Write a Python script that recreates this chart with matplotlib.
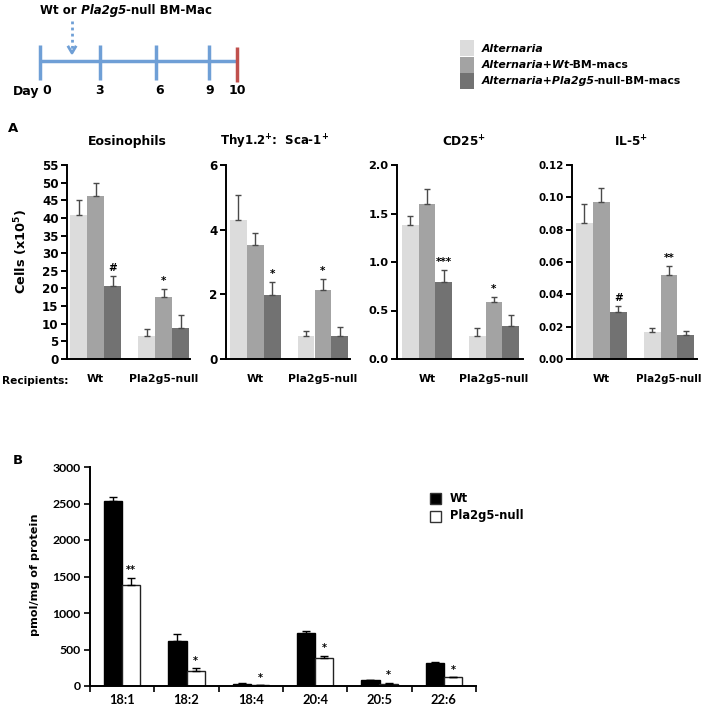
import matplotlib
matplotlib.use('Agg')
import matplotlib.pyplot as plt
import numpy as np
from matplotlib.patches import Rectangle

plt.rcParams['font.family'] = ['DejaVu Sans']
plt.rcParams['font.weight'] = 'bold'
plt.rcParams['axes.linewidth'] = 1.4

# ---------------- data ----------------
groups_A = ['Wt', 'Pla2g5-null']
series_A = ['Alternaria', 'Alternaria+Wt-BM-macs', 'Alternaria+Pla2g5-null-BM-macs']
colors_A = ['#dcdcdc', '#a3a3a3', '#727272']

eos_wt = [40.8, 46.2, 20.7]
eos_wt_err = [4.3, 3.6, 2.8]
eos_null = [6.5, 17.7, 8.9]
eos_null_err = [1.9, 2.1, 3.7]
eos_sig_wt = ['', '', '#']
eos_sig_null = ['', '*', '']

thy_wt = [4.30, 3.53, 1.98]
thy_wt_err = [0.78, 0.36, 0.41]
thy_null = [0.70, 2.14, 0.70]
thy_null_err = [0.18, 0.33, 0.28]
thy_sig_wt = ['', '', '*']
thy_sig_null = ['', '*', '']

cd25_wt = [1.38, 1.60, 0.79]
cd25_wt_err = [0.09, 0.15, 0.13]
cd25_null = [0.24, 0.59, 0.34]
cd25_null_err = [0.08, 0.05, 0.11]
cd25_sig_wt = ['', '', '***']
cd25_sig_null = ['', '*', '']

il5_wt = [0.084, 0.097, 0.029]
il5_wt_err = [0.012, 0.009, 0.004]
il5_null = [0.017, 0.052, 0.015]
il5_null_err = [0.002, 0.0055, 0.0025]
il5_sig_wt = ['', '', '#']
il5_sig_null = ['', '**', '']

fa_labels = ['18:1', '18:2', '18:4', '20:4', '20:5', '22:6']
fa_wt = [2535, 620, 27, 720, 78, 315]
fa_wt_err = [55, 87, 9, 37, 0, 18]
fa_null = [1381, 210, 9, 388, 23, 119]
fa_null_err = [105, 32, 0, 27, 18, 0]
fa_sig = ['**', '*', '*', '*', '*', '*']
series_B = ['Wt', 'Pla2g5-null']

timeline_days = ['0', '3', '6', '9', '10']

# ---------------- figure ----------------
W, H = 701, 708
fig = plt.figure(figsize=(W / 100, H / 100), dpi=100)


def ax_px(x0, y0, x1, y1):
    return fig.add_axes([x0 / W, 1 - y1 / H, (x1 - x0) / W, (y1 - y0) / H])


def panel_A(box, bar_left, bar_w, wt, wt_err, nl, nl_err, sig_wt, sig_nl,
            ymax, yticks, fmt, ysize=8.2):
    x0, y0, x1, y1 = box
    ax = ax_px(x0, y0, x1, y1)
    xl = -0.5 - (bar_left - x0) / bar_w
    xr = -0.5 + (x1 - bar_left) / bar_w
    for gi, (vals, errs, sigs) in enumerate([(wt, wt_err, sig_wt), (nl, nl_err, sig_nl)]):
        xs = np.arange(3) + gi * 4
        ax.bar(xs, vals, width=1.0, color=colors_A, edgecolor='none', zorder=2)
        ax.errorbar(xs, vals, yerr=[np.zeros(3), errs], fmt='none', ecolor='#4a4a4a',
                    elinewidth=1.0, capsize=2.5, capthick=1.0, zorder=3)
        for x, v, e, s in zip(xs, vals, errs, sigs):
            if s:
                ax.annotate(s, xy=(x, v + e), xytext=(0, 2), textcoords='offset points',
                            ha='center', va='bottom', fontsize=7.5, fontweight='bold')
    ax.set_xlim(xl, xr)
    ax.set_ylim(0, ymax)
    ax.set_yticks(yticks)
    ax.set_yticklabels([fmt.format(t) for t in yticks])
    ax.set_xticks([1, 5])
    ax.set_xticklabels(groups_A)
    ax.spines['top'].set_visible(False)
    ax.spines['right'].set_visible(False)
    ax.tick_params(axis='y', direction='out', length=4, width=1.4, labelsize=ysize, pad=2)
    ax.tick_params(axis='x', length=0, labelsize=7.8, pad=11)
    for lab in ax.get_xticklabels() + ax.get_yticklabels():
        lab.set_fontweight('bold')
    return ax


panel_A((67, 165, 190, 359), 70, 17.0, eos_wt, eos_wt_err, eos_null, eos_null_err,
        eos_sig_wt, eos_sig_null, 55, list(range(0, 56, 5)), '{:d}', 8.6)
panel_A((226, 165, 350, 359), 230, 16.9, thy_wt, thy_wt_err, thy_null, thy_null_err,
        thy_sig_wt, thy_sig_null, 6, [0, 2, 4, 6], '{:d}', 8.6)
panel_A((397, 165, 523, 359), 402, 16.7, cd25_wt, cd25_wt_err, cd25_null, cd25_null_err,
        cd25_sig_wt, cd25_sig_null, 2.0, [0.0, 0.5, 1.0, 1.5, 2.0], '{:.1f}', 8.2)
axIL = panel_A((572, 165, 697, 359), 576, 16.9, il5_wt, il5_wt_err, il5_null, il5_null_err,
               il5_sig_wt, il5_sig_null, 0.12, [0.0, 0.02, 0.04, 0.06, 0.08, 0.10, 0.12], '{:.2f}', 7.4)
axIL.get_xticklabels()[1].set_fontsize(7.4)

# ---------------- panel B ----------------
axB = ax_px(90, 467, 476, 686)
xB = np.arange(len(fa_labels))
bw = 0.28
axB.bar(xB - bw / 2, fa_wt, width=bw, color='black', edgecolor='black', linewidth=1.0, zorder=2)
axB.bar(xB + bw / 2, fa_null, width=bw, color='white', edgecolor='#222222', linewidth=1.0, zorder=2)
axB.errorbar(xB - bw / 2, fa_wt, yerr=[np.zeros(len(xB)), fa_wt_err], fmt='none', ecolor='black',
             elinewidth=1.0, capsize=3, capthick=1.0, zorder=3)
axB.errorbar(xB + bw / 2, fa_null, yerr=[np.zeros(len(xB)), fa_null_err], fmt='none', ecolor='black',
             elinewidth=1.0, capsize=3, capthick=1.0, zorder=3)
for x, v, e, s in zip(xB + bw / 2, fa_null, fa_null_err, fa_sig):
    axB.annotate(s, xy=(x, v + e), xytext=(0, 2), textcoords='offset points',
                 ha='center', va='bottom', fontsize=7, fontweight='bold')
axB.set_xlim(-0.5, len(fa_labels) - 0.5)
axB.set_ylim(0, 3000)
axB.set_yticks(range(0, 3001, 500))
axB.set_xticks(xB)
axB.set_xticklabels(fa_labels)
axB.set_xticks(np.arange(-0.5, len(fa_labels)), minor=True)
axB.spines['top'].set_visible(False)
axB.spines['right'].set_visible(False)
axB.tick_params(axis='x', which='major', length=0, pad=6, labelsize=9.3)
axB.tick_params(axis='x', which='minor', length=4, width=1.2, direction='out')
axB.tick_params(axis='y', length=4, width=1.2, direction='out', labelsize=8.8, pad=3)
for lab in axB.get_xticklabels() + axB.get_yticklabels():
    lab.set_fontfamily(['Lato', 'DejaVu Sans'])
    lab.set_fontweight('bold')

# ---------------- overlay (diagram, labels, legends) ----------------
ov = fig.add_axes([0, 0, 1, 1], zorder=10)
ov.set_xlim(0, W)
ov.set_ylim(H, 0)
ov.axis('off')
ov.patch.set_alpha(0)

renderer = fig.canvas.get_renderer()


def rich(x, y, parts, size, kern=0.8):
    for txt, style in parts:
        t = ov.text(x, y, txt, fontsize=size, fontweight='bold', fontstyle=style,
                    ha='left', va='baseline')
        x += t.get_window_extent(renderer).width - (kern if style == 'italic' else 0.0)


blue = '#6f9fd6'
red = '#c0504d'
ov.plot([40, 237], [60.5, 60.5], color=blue, lw=2.5, solid_capstyle='butt')
for tx in [40, 100, 156, 209]:
    ov.plot([tx, tx], [45, 80], color=blue, lw=2.5, solid_capstyle='butt')
ov.plot([237, 237], [47, 82], color=red, lw=2.5, solid_capstyle='butt')
ov.plot([72, 72], [21, 50], color=blue, lw=2, linestyle=(0, (1, 1.2)))
ov.plot([68.5, 72, 75.5], [47, 53, 47], color=blue, lw=2)
ov.text(39, 91, 'Day', fontsize=9, ha='right', va='center')
for xd, d in zip([47, 99, 160, 210, 237], timeline_days):
    ov.text(xd, 91, d, fontsize=9, ha='center', va='center')
rich(40, 14, [('Wt or', 'normal'), (' Pla2g5', 'italic'), ('-null BM-Mac', 'normal')], 8.5, 0.3)

# legend A
leg_y = [40, 56.5, 73]
for c, ly in zip(colors_A, leg_y):
    ov.add_patch(Rectangle((460, ly), 14, 16, facecolor=c, edgecolor='none'))
rich(482, 51.5, [(series_A[0], 'italic')], 7.8)
rich(482, 68, [('Alternaria+Wt', 'italic'), ('-BM-macs', 'normal')], 7.8, 2.0)
rich(482, 84.5, [('Alternaria+Pla2g5', 'italic'), ('-null-BM-macs', 'normal')], 7.8, 2.0)

# panel labels and titles
ov.text(8, 128, 'A', fontsize=9.5, ha='left', va='center')
ov.text(13, 461, 'B', fontsize=9.5, ha='left', va='center')
ov.text(127.5, 142, 'Eosinophils', fontsize=8.9, ha='center', va='center')
ov.text(274.5, 142, r'Thy1.2$^\mathbf{+}$:  Sca-1$^\mathbf{+}$', fontsize=8.5, ha='center', va='center')
ov.text(464, 142, r'CD25$^\mathbf{+}$', fontsize=8.7, ha='center', va='center')
ov.text(631, 142, r'IL-5$^\mathbf{+}$', fontsize=8.7, ha='center', va='center')
ov.text(21, 252, r'Cells (x10$^\mathbf{5}$)', fontsize=9.3, rotation=90, ha='center', va='center')
ov.text(2, 381, 'Recipients:', fontsize=7.6, ha='left', va='center')
ov.text(35, 575, 'pmol/mg of protein', fontsize=8.1, rotation=90, ha='center', va='center')

# legend B
for c, ly in zip(['black', 'white'], [493, 510.5]):
    ov.add_patch(Rectangle((430, ly), 11, 11, facecolor=c, edgecolor='#333333', lw=1.0))
ov.text(450, 498.5, series_B[0], fontsize=8.3, ha='left', va='center')
ov.text(450, 516, series_B[1], fontsize=8.3, ha='left', va='center')

fig.savefig('out.png', dpi=100)
